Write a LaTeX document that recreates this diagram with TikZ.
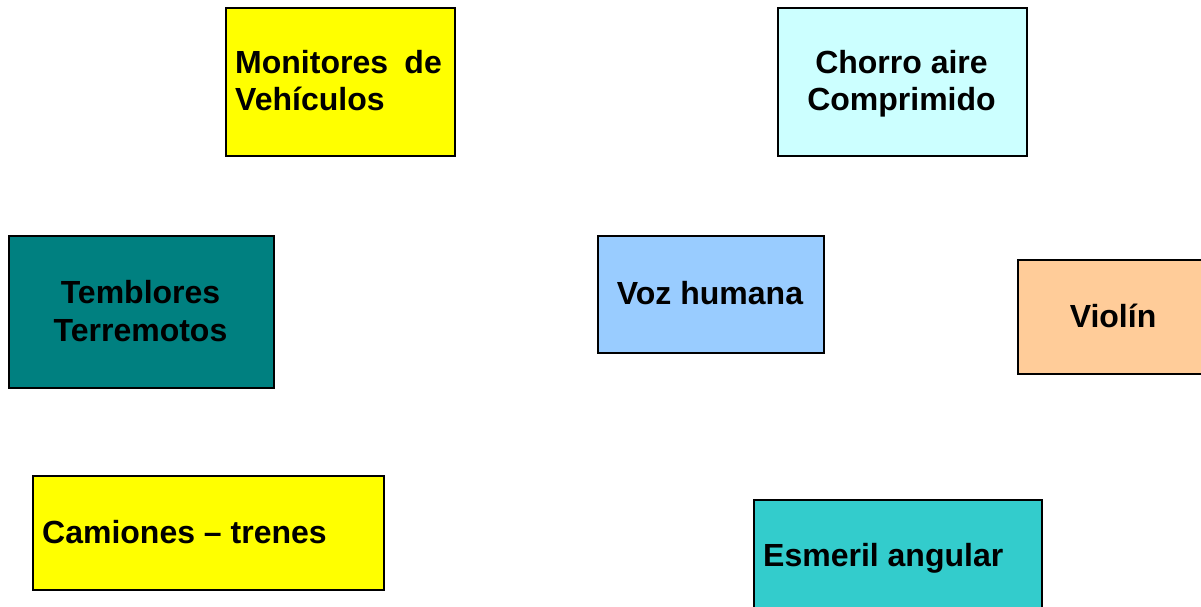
\documentclass[tikz,border=0pt]{standalone}
\usepackage{fontspec}
\setmainfont{Liberation Sans}
\definecolor{cyel}{HTML}{FFFF00}
\definecolor{ccyan}{HTML}{CCFFFF}
\definecolor{cteal}{HTML}{008080}
\definecolor{cblue}{HTML}{99CCFF}
\definecolor{cpeach}{HTML}{FFCC99}
\definecolor{cturq}{HTML}{33CCCC}
\begin{document}
\begin{tikzpicture}[x=1pt,y=-1pt,
  box/.style={draw=black,line width=2pt,inner sep=0pt,anchor=north west},
  lbl/.style={font=\fontsize{32}{37}\selectfont\bfseries,inner sep=0pt,text=black}]
\useasboundingbox (0,0) rectangle (1201,606);
\clip (0,0) rectangle (1201,606);
\node[box,fill=cyel,minimum width=229pt,minimum height=148pt] (mon) at (224.5,6.5) {};
\node[box,fill=ccyan,minimum width=249pt,minimum height=148pt] (cho) at (776.5,6.5) {};
\node[box,fill=cteal,minimum width=265pt,minimum height=152pt] (tem) at (7.5,234.5) {};
\node[box,fill=cblue,minimum width=226pt,minimum height=117pt] (voz) at (596.5,234.5) {};
\node[box,fill=cpeach,minimum width=194pt,minimum height=114pt] (vio) at (1016.5,258.5) {};
\node[box,fill=cyel,minimum width=351pt,minimum height=114pt] (cam) at (31.5,474.5) {};
\node[box,fill=cturq,minimum width=288pt,minimum height=116pt] (esm) at (752.5,498.5) {};
% texts
\node[lbl,anchor=base west] (t1a) at (235,73) {Monitores};
\node[lbl,anchor=base east] (t1b) at (442,73) {de};
\node[lbl,anchor=base west] (t1c) at (235,110) {Vehículos};
\node[lbl,anchor=base] (t2a) at (901.5,73) {Chorro aire};
\node[lbl,anchor=base] (t2b) at (901.5,110) {Comprimido};
\node[lbl,anchor=base] (t3a) at (140.5,303) {Temblores};
\node[lbl,anchor=base] (t3b) at (140.5,341) {Terremotos};
\node[lbl,anchor=base] (t4) at (710,304) {Voz humana};
\node[lbl,anchor=base] (t5) at (1113,327) {Violín};
\node[lbl,anchor=base west] (t6) at (42,543) {Camiones – trenes};
\node[lbl,anchor=base west] (t7) at (763,566) {Esmeril angular};
\end{tikzpicture}
\end{document}
